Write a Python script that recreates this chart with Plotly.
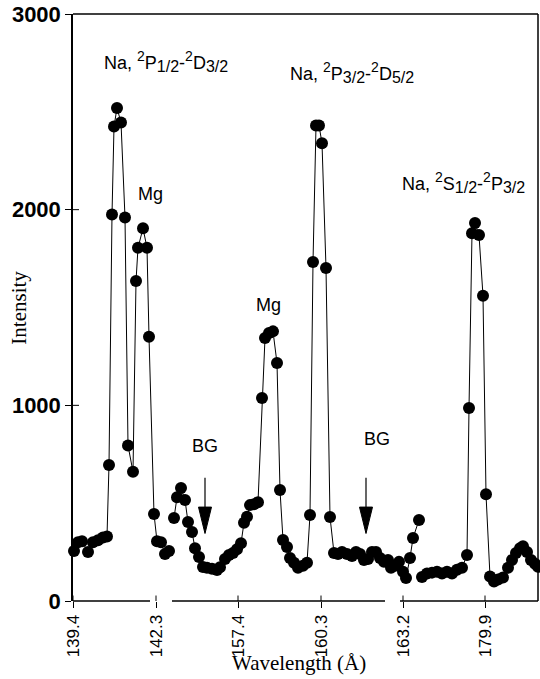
import plotly.graph_objects as go

# Position along the (broken) wavelength axis, in detector channels
seg1_ch = [1, 5, 9, 15, 20, 25, 30, 34, 36, 39, 41, 44, 48, 52, 55, 60, 63, 65, 70, 74, 76, 81, 84, 88, 92, 96]
seg1_int = [255, 300, 305, 250, 300, 310, 325, 330, 695, 1975, 2425, 2520, 2445, 1960, 795, 660, 1635, 1805, 1905, 1805, 1350, 445, 305, 300, 240, 255]

seg2_ch = [101, 104, 108, 112, 115, 119, 122, 126, 130, 134, 139, 144, 147, 152, 156, 160, 164, 168, 171, 174, 177, 181, 185,
           189, 192, 196, 200, 204, 207, 210, 214, 217, 221, 225, 230, 234, 237, 240, 243, 246, 249, 253, 257,
           261, 265, 269, 274, 279, 283, 287, 291, 295, 299, 303, 307, 311, 315, 318, 322, 326, 330, 333, 337, 340, 346]
seg2_int = [424, 530, 577, 516, 404, 353, 270, 225, 174, 170, 165, 158, 172, 215, 235, 245, 265, 295, 400, 430, 490, 495, 505,
            1037, 1344, 1370, 1378, 1216, 567, 312, 276, 220, 195, 170, 180, 195, 440, 1732, 2430, 2430, 2340, 1702, 429,
            245, 240, 250, 240, 230, 250, 240, 210, 215, 250, 250, 220, 200, 210, 170, 180, 200, 150, 118, 220, 322, 414]

seg3_ch = [349, 354, 359, 364, 369, 374, 379, 384, 389, 394, 396, 399, 402, 406, 410, 413, 417, 421, 425, 430, 435, 439, 443, 447, 450, 454, 458, 462, 465]
seg3_int = [123, 140, 145, 150, 140, 150, 140, 160, 170, 235, 986, 1880, 1932, 1870, 1560, 545, 125, 100, 110, 120, 170, 210, 245, 270, 280, 250, 210, 190, 175]

tick_ch = [0, 83, 165, 248, 330, 412]
tick_labels = ["139.4", "142.3", "157.4", "160.3", "163.2", "179.9"]
y_ticks = [0, 1000, 2000, 3000]

# visible pieces of the broken x axis (channels)
axis_pieces = [(0, 77), (99, 312), (327, 465)]

X_MAX = 465
Y_MAX = 3000

fig = go.Figure()
for xs, ys in [(seg1_ch, seg1_int), (seg2_ch, seg2_int), (seg3_ch, seg3_int)]:
    fig.add_trace(go.Scatter(
        x=xs, y=ys, mode="lines+markers",
        line=dict(color="black", width=1),
        marker=dict(color="black", size=12),
        cliponaxis=False, showlegend=False, hoverinfo="skip"))

shapes = []
for a, b in axis_pieces:
    shapes.append(dict(type="line", xref="x", yref="paper", x0=a, x1=b, y0=0, y1=0,
                       line=dict(color="black", width=1.5)))
# top and right frame
shapes.append(dict(type="line", xref="paper", yref="paper", x0=0, x1=1, y0=1, y1=1,
                   line=dict(color="black", width=1.5)))
shapes.append(dict(type="line", xref="paper", yref="paper", x0=1, x1=1, y0=0, y1=1,
                   line=dict(color="black", width=1.5)))
# inward halves of the crossing tick marks
for t in tick_ch:
    shapes.append(dict(type="line", xref="x", yref="y", x0=t, x1=t, y0=0, y1=28,
                       line=dict(color="black", width=1)))
for v in y_ticks[1:-1]:
    shapes.append(dict(type="line", xref="x", yref="y", x0=0, x1=6, y0=v, y1=v,
                       line=dict(color="black", width=1)))
# BG arrows (shaft + filled head)
for xc in [132, 293]:
    shapes.append(dict(type="line", xref="x", yref="y", x0=xc, x1=xc, y0=630, y1=480,
                       line=dict(color="black", width=1.2)))
    shapes.append(dict(type="path", xref="x", yref="y",
                       path=f"M {xc-6.5},480 L {xc+6.5},480 L {xc},345 Z",
                       fillcolor="black", line=dict(color="black", width=1)))

sans = "Liberation Sans, Arial, sans-serif"
serif = "Liberation Serif, Times New Roman, serif"


def term(sup, letter, sub):
    return (f"<sup><span style='font-size:14px'>{sup}</span></sup>{letter}"
            f"<sub><span style='font-size:16px'>{sub}</span></sub>")


def transition(a, b):
    return "Na, " + term(*a) + "-" + term(*b)


ann = []


def txt(x, y, s, size=18, xanchor="center"):
    ann.append(dict(x=x, y=y, xref="x", yref="y", text=s, showarrow=False,
                    font=dict(family=sans, size=size, color="black"), xanchor=xanchor, yanchor="middle"))


txt(29, 2755, transition(("2", "P", "1/2"), ("2", "D", "3/2")), xanchor="left")
txt(77, 2080, "Mg")
txt(195, 1515, "Mg")
txt(215, 2700, transition(("2", "P", "3/2"), ("2", "D", "5/2")), xanchor="left")
txt(327, 2140, transition(("2", "S", "1/2"), ("2", "P", "3/2")), xanchor="left")
txt(132, 790, "BG")
txt(304, 830, "BG")

ann.append(dict(x=-0.118, y=0.5, xref="paper", yref="paper", text="Intensity", showarrow=False,
                textangle=-90, font=dict(family=serif, size=21, color="black"),
                xanchor="center", yanchor="middle"))
ann.append(dict(x=0.486, y=-0.106, xref="paper", yref="paper", text="Wavelength (Å)", showarrow=False,
                font=dict(family=serif, size=21, color="black"), xanchor="center", yanchor="middle"))

fig.update_layout(
    width=540, height=679,
    margin=dict(l=73, r=2, t=14, b=78),
    paper_bgcolor="white", plot_bgcolor="white",
    shapes=shapes, annotations=ann,
    xaxis=dict(range=[0, X_MAX], tickmode="array", tickvals=tick_ch, ticktext=tick_labels,
               tickangle=-90, ticks="outside", ticklen=6, tickcolor="black", tickwidth=1,
               showline=False, showgrid=False, zeroline=False,
               tickfont=dict(family=sans, size=17, color="black")),
    yaxis=dict(range=[0, Y_MAX], tickmode="array", tickvals=y_ticks,
               ticks="outside", ticklen=6, tickcolor="black", tickwidth=1,
               showline=True, linecolor="black", linewidth=1.5,
               showgrid=False, zeroline=False, ticklabeloverflow="allow",
               tickfont=dict(family=sans, size=22, color="black", weight="bold")),
)

# remove the page's default body margin so the figure fills the window exactly
fig.write_html("out.html", config={"displayModeBar": False},
               post_script="document.body.style.margin='0';document.body.style.overflow='hidden';")
